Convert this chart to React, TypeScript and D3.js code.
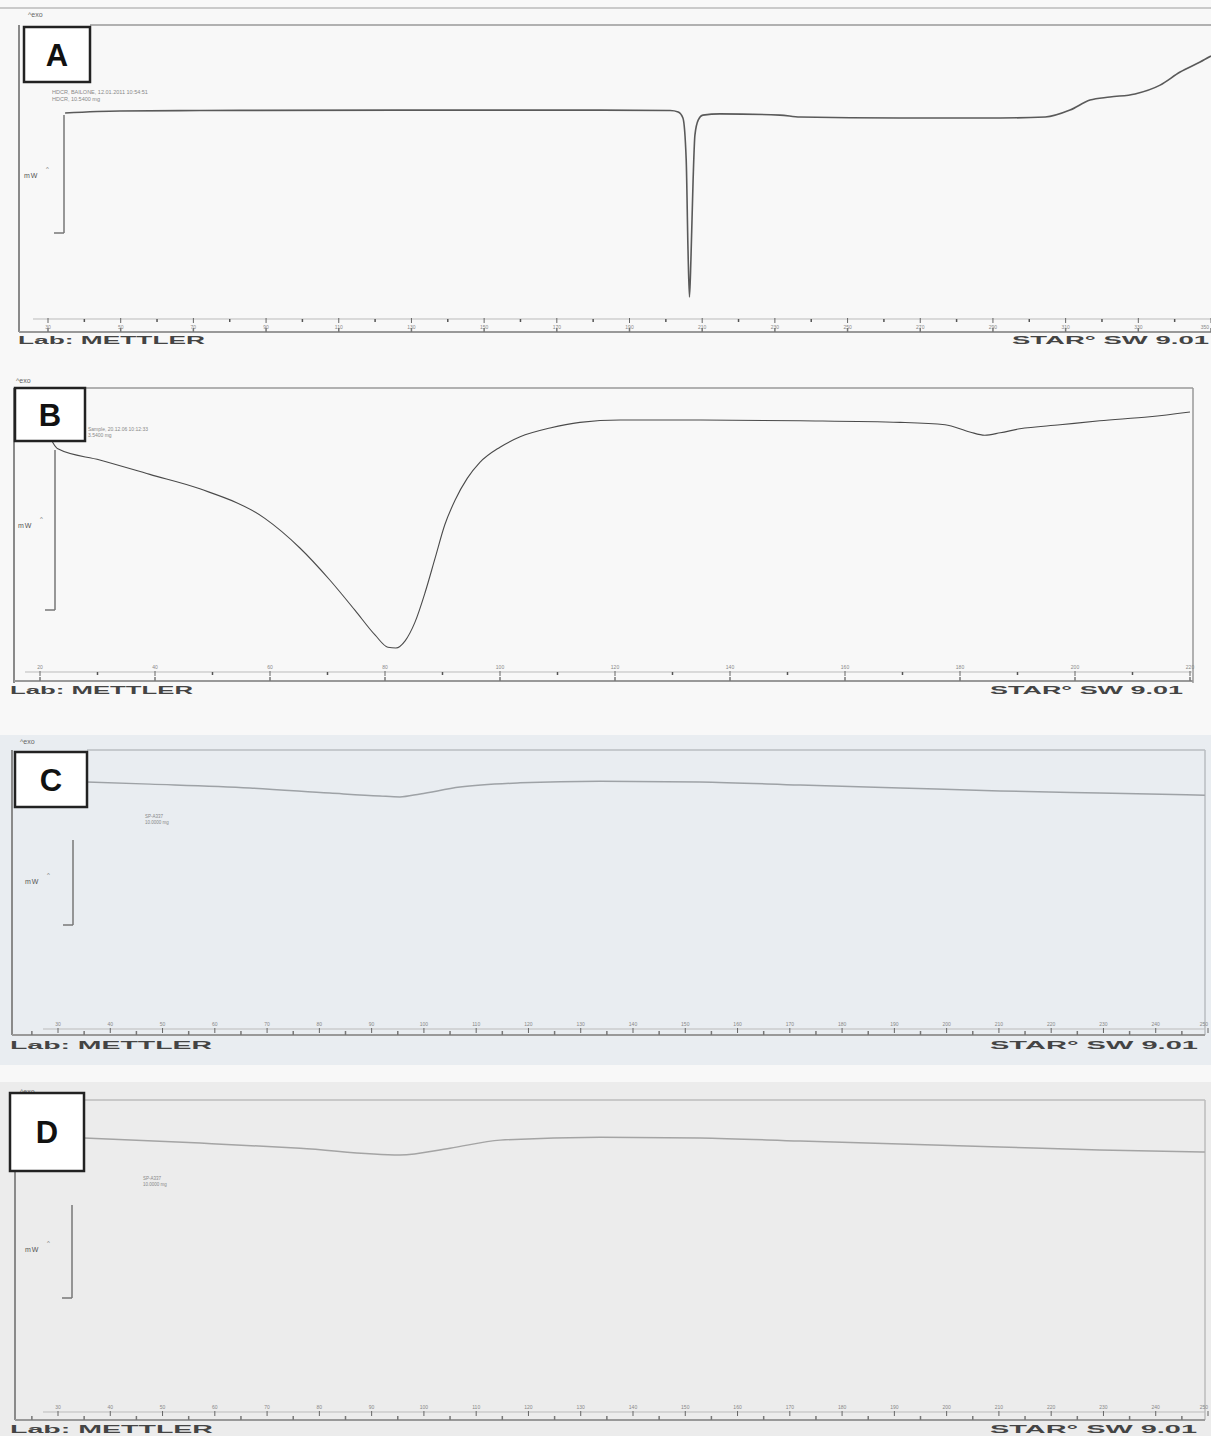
import React from 'react';
import * as d3 from 'd3';

// ---------------- DATA ----------------
const panelLabels = ['A', 'B', 'C', 'D'];

// Panel A: temperature (°C) vs heat flow (mW)
const tempA = [34.7, 49.8, 71.8, 126.9, 181.9, 201.2, 203.4, 204.7, 205.6, 206.1, 206.5, 206.9, 207.5, 208.0, 208.9, 210.2, 214.9, 231.4, 236.9, 264.4, 292.0, 304.4, 311.2, 316.7, 322.2, 329.1, 336.0, 341.5, 347.0, 350.0];
const heatA = [-0.04, 0.04, 0.06, 0.08, 0.08, 0.06, 0.0, -0.25, -2.0, -5.8, -7.77, -6.2, -2.86, -0.97, -0.34, -0.13, -0.08, -0.13, -0.21, -0.25, -0.25, -0.21, 0.08, 0.5, 0.63, 0.76, 1.13, 1.68, 2.1, 2.35];

// Panel B
const tempB = [20.7, 21.4, 22.3, 23.1, 30.4, 39.1, 47.8, 59.1, 65.2, 70.4, 74.8, 78.3, 80.5, 81.9, 83.5, 85.2, 87.0, 88.7, 90.4, 92.2, 94.3, 96.5, 100.0, 103.5, 108.7, 113.9, 120.9, 134.8, 152.2, 169.6, 177.4, 181.7, 184.3, 187.0, 190.4, 197.4, 204.3, 213.0, 220.0];
const heatB = [0.03, -0.15, -0.29, -0.36, -0.5, -0.68, -0.86, -1.23, -1.6, -2.0, -2.38, -2.69, -2.84, -2.85, -2.76, -2.53, -2.15, -1.73, -1.31, -1.0, -0.73, -0.53, -0.34, -0.21, -0.1, -0.03, 0.0, 0.0, -0.01, -0.03, -0.06, -0.15, -0.19, -0.16, -0.11, -0.06, -0.01, 0.04, 0.1];

// Panel C
const tempC = [35.5, 47.6, 66.7, 82.0, 91.6, 95.4, 99.3, 106.9, 118.4, 133.7, 152.8, 172.0, 191.1, 210.2, 229.3, 249.4];
const heatC = [0.0, -0.05, -0.14, -0.26, -0.33, -0.35, -0.28, -0.12, -0.02, 0.02, 0.0, -0.07, -0.14, -0.21, -0.26, -0.31];

// Panel D
const tempD = [35.0, 57.2, 76.3, 95.4, 105.0, 114.6, 133.7, 152.8, 172.0, 191.1, 210.2, 229.3, 249.4];
const heatD = [0.0, -0.12, -0.24, -0.4, -0.24, -0.05, 0.02, 0.0, -0.07, -0.14, -0.21, -0.28, -0.33];

// Tick labels (°C) and time ticks (min)
const tempLabelsA = [30, 50, 70, 90, 110, 130, 150, 170, 190, 210, 230, 250, 270, 290, 310, 330, 350];
const tempMinorA = [40, 60, 80, 100, 120, 140, 160, 180, 200, 220, 240, 260, 280, 300, 320, 340];
const tempLabelsB = [20, 40, 60, 80, 100, 120, 140, 160, 180, 200, 220];
const tempMinorB = [30, 50, 70, 90, 110, 130, 150, 170, 190, 210];
const tempLabelsCD = [30, 40, 50, 60, 70, 80, 90, 100, 110, 120, 130, 140, 150, 160, 170, 180, 190, 200, 210, 220, 230, 240, 250];
const timeTicksCD = [0, 1, 2, 3, 4, 5, 6, 7, 8, 9, 10, 11, 12, 13, 14, 15, 16, 17, 18, 19, 20, 21, 22];

const sampleTextA = ['HDCR, BAILONE, 12.01.2011 10:54:51', 'HDCR, 10.5400 mg'];
const sampleTextB = ['Sample, 20.12.06  10:12:33', '3.5400 mg'];
const sampleTextC = ['SP-A337', '10.0000 mg'];
const sampleTextD = ['SP-A337', '10.0000 mg'];

const footerLeft = 'Lab: METTLER';
const footerRight = 'STAR\u00B0 SW 9.01';
const exoLabel = '^exo';
const scaleBarLabel = 'mW';

// ---------------- LAYOUT ----------------
type Layout = {
  frame: [number, number, number, number];
  rightFrame: boolean;
  box: [number, number, number, number];
  xDomain: [number, number];
  xRange: [number, number];
  yDomain: [number, number];
  yRange: [number, number];
  upperY: number;
  lowerY: number;
  labelY: number;
  scaleBar: [number, number, number];
  mw: [number, number];
  sample: [number, number];
  sampleSize: number;
  exo: [number, number];
  footerY: number;
  footL: [number, number];
  footR: [number, number];
  curveColor: string;
  curveWidth: number;
  frameColor: string;
  bg?: [number, number, number, number, string];
};

const LA: Layout = {
  frame: [19, 25, 1211, 332], rightFrame: false, box: [24, 27, 66, 55],
  xDomain: [30, 350], xRange: [48, 1211], yDomain: [0, -8], yRange: [112, 302.4],
  upperY: 319, lowerY: 332, labelY: 329, scaleBar: [64, 115, 233], mw: [24, 178],
  sample: [52, 94], sampleSize: 5.5, exo: [28, 17], footerY: 344, footL: [18, 187], footR: [1012, 197],
  curveColor: '#5a5a5a', curveWidth: 1.6, frameColor: '#9a9a9a',
};
const LB: Layout = {
  frame: [14, 388, 1193, 683], rightFrame: true, box: [15, 388, 70, 53],
  xDomain: [20, 220], xRange: [40, 1190], yDomain: [0, -2], yRange: [420, 580],
  upperY: 672, lowerY: 681, labelY: 669, scaleBar: [55, 450, 610], mw: [18, 528],
  sample: [88, 431], sampleSize: 5, exo: [16, 383], footerY: 694, footL: [10, 183], footR: [990, 193],
  curveColor: '#4a4a4a', curveWidth: 1.1, frameColor: '#9a9a9a',
};
const LC: Layout = {
  frame: [12, 750, 1205, 1035], rightFrame: true, box: [15, 752, 72, 55],
  xDomain: [30, 250], xRange: [58, 1208], yDomain: [0, -2], yRange: [782, 867],
  upperY: 1029, lowerY: 1035, labelY: 1026, scaleBar: [73, 840, 925], mw: [25, 884],
  sample: [145, 818], sampleSize: 4.5, exo: [20, 744], footerY: 1049, footL: [10, 202], footR: [990, 208],
  curveColor: '#9ea2a6', curveWidth: 1.5, frameColor: '#b8bcc0', bg: [0, 735, 1211, 330, '#e9edf1'],
};
const LD: Layout = {
  frame: [15, 1100, 1205, 1420], rightFrame: true, box: [10, 1093, 74, 78],
  xDomain: [30, 250], xRange: [58, 1208], yDomain: [0, -2], yRange: [1138, 1223],
  upperY: 1412, lowerY: 1420, labelY: 1409, scaleBar: [72, 1205, 1298], mw: [25, 1252],
  sample: [143, 1180], sampleSize: 4.5, exo: [20, 1094], footerY: 1433, footL: [10, 203], footR: [990, 207],
  curveColor: '#a4a4a4', curveWidth: 1.5, frameColor: '#bdbdbd', bg: [0, 1082, 1211, 354, '#ececec'],
};

type PanelProps = {
  L: Layout; temps: number[]; values: number[]; label: string; sample: string[];
  tempLabels: number[]; tempMinor: number[]; timeTicks: number[] | null;
};

function Panel({ L, temps, values, label, sample, tempLabels, tempMinor, timeTicks }: PanelProps) {
  const x = d3.scaleLinear().domain(L.xDomain).range(L.xRange);
  const y = d3.scaleLinear().domain(L.yDomain).range(L.yRange);
  // time axis: 10 K/min heating starting 5 °C below first temperature label
  const t0 = tempLabels[0] - 5;
  const xt = d3.scaleLinear().domain([0, 1]).range([x(t0), x(t0 + 10)]);
  const line = d3.line<number>()
    .x((_, i) => x(temps[i]))
    .y((d) => y(d))
    .curve(d3.curveMonotoneX);
  const [fl, ft, fr, fb] = L.frame;
  const [bx, by, bw, bh] = L.box;
  const [sx, sy0, sy1] = L.scaleBar;
  const font = 'Liberation Sans, Arial, sans-serif';
  return (
    <g>
      {L.bg && <rect x={L.bg[0]} y={L.bg[1]} width={L.bg[2]} height={L.bg[3]} fill={L.bg[4]} />}
      <text x={L.exo[0]} y={L.exo[1]} fontSize={7} fill="#666" fontFamily={font}>{exoLabel}</text>
      <line x1={bx + bw} x2={fr} y1={ft} y2={ft} stroke={L.frameColor} strokeWidth={1.5} />
      <line x1={fl} x2={fl} y1={ft} y2={fb} stroke="#8a8a8a" strokeWidth={2} />
      {L.rightFrame && <line x1={fr} x2={fr} y1={ft} y2={fb} stroke={L.frameColor} strokeWidth={1.5} />}
      <line x1={L.xRange[0] - 15} x2={fr} y1={L.upperY} y2={L.upperY} stroke="#bbb" strokeWidth={1} />
      <line x1={fl} x2={fr} y1={L.lowerY} y2={L.lowerY} stroke="#999" strokeWidth={2} />
      {tempMinor.map((t) => (
        <line key={'m' + t} x1={x(t)} x2={x(t)} y1={L.upperY} y2={L.upperY + 3} stroke="#555" strokeWidth={1.5} />
      ))}
      {tempLabels.map((t) => {
        const px = x(t);
        const anchor = px > 1195 ? 'end' : 'middle';
        return (
          <g key={'l' + t}>
            <line x1={px} x2={px} y1={L.upperY - 1} y2={L.upperY + 4} stroke="#666" strokeWidth={1} />
            <text x={Math.min(px, 1209)} y={L.labelY} fontSize={5} textAnchor={anchor} fill="#888" fontFamily={font}>{t}</text>
            {!timeTicks && <line x1={px} x2={px} y1={L.lowerY - 4} y2={L.lowerY} stroke="#777" strokeWidth={1.5} />}
          </g>
        );
      })}
      {timeTicks && timeTicks.map((m) => (
        <line key={'t' + m} x1={xt(m)} x2={xt(m)} y1={L.lowerY - 4} y2={L.lowerY} stroke="#777" strokeWidth={1.5} />
      ))}
      <line x1={sx} x2={sx} y1={sy0} y2={sy1} stroke="#777" strokeWidth={1.5} />
      <line x1={sx - 10} x2={sx} y1={sy1} y2={sy1} stroke="#777" strokeWidth={1.5} />
      <text x={L.mw[0]} y={L.mw[1]} fontSize={7} fill="#555" fontFamily={font} letterSpacing={1}>{scaleBarLabel}</text>
      <text x={L.mw[0] + 22} y={L.mw[1] - 7} fontSize={6} fill="#777" fontFamily={font}>^</text>
      {sample.map((s, i) => (
        <text key={s} x={L.sample[0]} y={L.sample[1] + i * (L.sampleSize + 1)} fontSize={L.sampleSize} fill="#888" fontFamily={font}>{s}</text>
      ))}
      <path d={line(values) || ''} fill="none" stroke={L.curveColor} strokeWidth={L.curveWidth} strokeLinejoin="round" />
      <rect x={bx} y={by} width={bw} height={bh} fill="#ffffff" stroke="#222" strokeWidth={2.5} />
      <text x={bx + bw / 2} y={by + bh / 2 + 11} fontSize={31} fontWeight="bold" textAnchor="middle" fill="#111" fontFamily={font}>{label}</text>
      <text x={L.footL[0]} y={L.footerY} fontSize={10} fontWeight="bold" fill="#444" textLength={L.footL[1]} lengthAdjust="spacingAndGlyphs" fontFamily={font}>{footerLeft}</text>
      <text x={L.footR[0]} y={L.footerY} fontSize={10} fontWeight="bold" fill="#444" textLength={L.footR[1]} lengthAdjust="spacingAndGlyphs" fontFamily={font}>{footerRight}</text>
    </g>
  );
}

export default function App() {
  return (
    <svg width={1211} height={1436} style={{ position: 'absolute', left: 0, top: 0 }} xmlns="http://www.w3.org/2000/svg">
      <rect x={0} y={0} width={1211} height={1436} fill="#f8f8f8" />
      <line x1={0} x2={1211} y1={8} y2={8} stroke="#bbb" strokeWidth={1.5} />
      <Panel L={LA} temps={tempA} values={heatA} label={panelLabels[0]} sample={sampleTextA} tempLabels={tempLabelsA} tempMinor={tempMinorA} timeTicks={null} />
      <Panel L={LB} temps={tempB} values={heatB} label={panelLabels[1]} sample={sampleTextB} tempLabels={tempLabelsB} tempMinor={tempMinorB} timeTicks={null} />
      <Panel L={LC} temps={tempC} values={heatC} label={panelLabels[2]} sample={sampleTextC} tempLabels={tempLabelsCD} tempMinor={[]} timeTicks={timeTicksCD} />
      <Panel L={LD} temps={tempD} values={heatD} label={panelLabels[3]} sample={sampleTextD} tempLabels={tempLabelsCD} tempMinor={[]} timeTicks={timeTicksCD} />
    </svg>
  );
}
